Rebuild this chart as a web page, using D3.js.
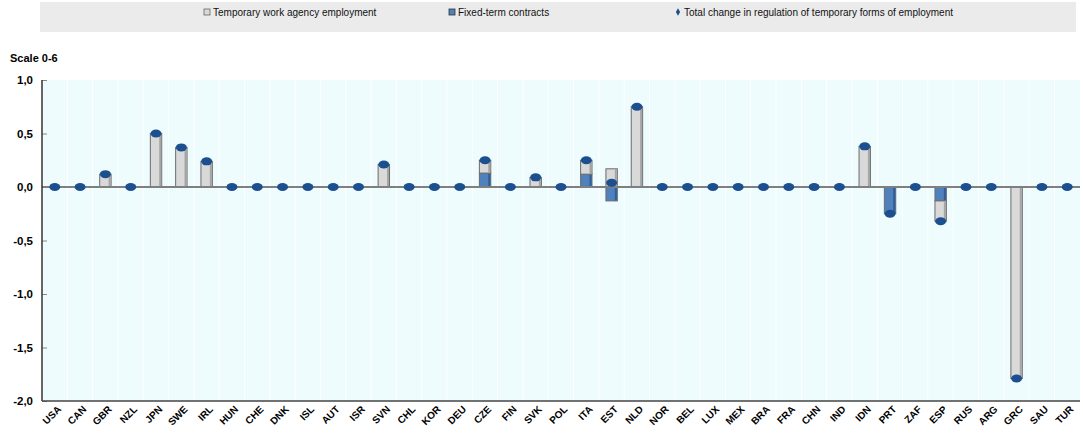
<!DOCTYPE html>
<html><head><meta charset="utf-8">
<script src="https://cdn.jsdelivr.net/npm/d3@7"></script>
<style>body{margin:0;background:#fff}svg{display:block}</style>
</head><body><svg id="c" width="1083" height="434"></svg>
<script>
const countries = ["USA","CAN","GBR","NZL","JPN","SWE","IRL","HUN","CHE","DNK","ISL","AUT","ISR","SVN","CHL","KOR","DEU","CZE","FIN","SVK","POL","ITA","EST","NLD","NOR","BEL","LUX","MEX","BRA","FRA","CHN","IND","IDN","PRT","ZAF","ESP","RUS","ARG","GRC","SAU","TUR"];
const twa   = [0,0,0.12,0,0.50,0.37,0.24,0,0,0,0,0,0,0.21,0,0,0,0.12,0,0.09,0,0.13,0.17,0.75,0,0,0,0,0,0,0,0,0.38,0,0,-0.19,0,0,-1.79,0,0];
const ftc   = [0,0,0,0,0,0,0,0,0,0,0,0,0,0,0,0,0,0.13,0,0,0,0.12,-0.13,0,0,0,0,0,0,0,0,0,0,-0.25,0,-0.13,0,0,0,0,0];
const total = [0,0,0.12,0,0.50,0.37,0.24,0,0,0,0,0,0,0.21,0,0,0,0.25,0,0.09,0,0.25,0.04,0.75,0,0,0,0,0,0,0,0,0.38,-0.25,0,-0.32,0,0,-1.79,0,0];
const yTicks = [1,0.5,0,-0.5,-1,-1.5,-2];
const legendLabels = ["Temporary work agency employment","Fixed-term contracts","Total change in regulation of temporary forms of employment"];
const yTitle = "Scale 0-6";

const svg = d3.select("#c");
const L = 42, R = 1080, T = 80, B = 401;
const x = d3.scaleBand().domain(countries).range([L, R]).paddingInner(0.55).paddingOuter(0.28);
const y = d3.scaleLinear().domain([-2, 1]).range([B, T]);

// legend
svg.append("rect").attr("x", 40).attr("y", 2).attr("width", 1036).attr("height", 30).attr("fill", "#ebebeb");
const lg = svg.append("g").attr("font-family", "Liberation Sans Narrow, Arial Narrow, Liberation Sans, sans-serif").attr("font-size", 10).attr("fill", "#111");
lg.append("rect").attr("x", 204).attr("y", 9).attr("width", 6).attr("height", 6).attr("fill", "#d9d9d9").attr("stroke", "#666").attr("stroke-width", 0.8);
lg.append("text").attr("x", 213).attr("y", 15.5).text(legendLabels[0]);
lg.append("rect").attr("x", 449).attr("y", 9).attr("width", 6).attr("height", 6).attr("fill", "#4f81bd").attr("stroke", "#333").attr("stroke-width", 0.8);
lg.append("text").attr("x", 458).attr("y", 15.5).text(legendLabels[1]);
lg.append("path").attr("d", d3.symbol(d3.symbolDiamond, 16)()).attr("transform", "translate(678,12)").attr("fill", "#1c4f8f");
lg.append("text").attr("x", 684).attr("y", 15.5).text(legendLabels[2]);

// plot background
svg.append("rect").attr("x", L).attr("y", T).attr("width", R - L).attr("height", B - T).attr("fill", "#eefcfe");
svg.append("g").selectAll("line").data(countries).join("line")
  .attr("x1", d => x(d) - x.step() * 0.28).attr("x2", d => x(d) - x.step() * 0.28)
  .attr("y1", T).attr("y2", B).attr("stroke", "#ffffff").attr("stroke-width", 1);

// y title
svg.append("text").attr("x", 10).attr("y", 62).attr("font-family", "Liberation Sans, Arial, sans-serif")
  .attr("font-weight", "bold").attr("font-size", 11).attr("fill", "#000").text(yTitle);

// y axis
const fmt = v => d3.format(".1f")(v).replace("−", "-").replace(".", ",");
const ya = svg.append("g").attr("transform", `translate(${L},0)`)
  .call(d3.axisLeft(y).tickValues(yTicks).tickSize(-5).tickSizeOuter(0).tickFormat(fmt));
ya.select(".domain").remove();
ya.selectAll(".tick line").attr("stroke", "#888");
ya.selectAll("text").attr("x", -9).attr("font-family", "Liberation Sans, Arial, sans-serif").attr("font-weight", "bold").attr("font-size", 11.5).attr("fill", "#000");

// stacked bars (diverging)
const data = countries.map((c, i) => ({c, ftc: ftc[i], twa: twa[i]}));
const stack = d3.stack().keys(["ftc", "twa"]).offset(d3.stackOffsetDiverging)(data);
const colors = {ftc: "#4f81bd", twa: "#d9d9d9"};
const bw = x.bandwidth();
stack.forEach(s => {
  const g = svg.append("g");
  const rows = s.filter(d => d[1] !== d[0]);
  g.selectAll("rect.m").data(rows).join("rect").attr("class", "m")
    .attr("x", d => x(d.data.c)).attr("width", bw)
    .attr("y", d => y(Math.max(d[0], d[1]))).attr("height", d => Math.abs(y(d[0]) - y(d[1])))
    .attr("fill", colors[s.key]).attr("stroke", "#6b6b6b").attr("stroke-width", 1);
  g.selectAll("rect.s").data(rows).join("rect").attr("class", "s")
    .attr("x", d => x(d.data.c) + bw - 2.5).attr("width", 2)
    .attr("y", d => y(Math.max(d[0], d[1])) + 0.5).attr("height", d => Math.max(0, Math.abs(y(d[0]) - y(d[1])) - 1))
    .attr("fill", s.key === "twa" ? "#a5a5a5" : "#2f5f9a");
});

// zero line
svg.append("line").attr("x1", L).attr("x2", R).attr("y1", y(0)).attr("y2", y(0)).attr("stroke", "#7f7f7f").attr("stroke-width", 2);

// axes borders
svg.append("line").attr("x1", L).attr("x2", L).attr("y1", T).attr("y2", B).attr("stroke", "#333").attr("stroke-width", 1.5);
svg.append("line").attr("x1", L).attr("x2", R).attr("y1", B).attr("y2", B).attr("stroke", "#444").attr("stroke-width", 1.5);

// total markers
svg.append("g").selectAll("ellipse").data(countries).join("ellipse")
  .attr("cx", d => x(d) + bw / 2).attr("cy", (d, i) => y(total[i]))
  .attr("rx", 5.5).attr("ry", 4).attr("fill", "#1c4f8f");

// x labels
svg.append("g").selectAll("text").data(countries).join("text")
  .attr("transform", d => `translate(${x(d) + bw / 2 + 7},${B + 9}) rotate(-45)`)
  .attr("text-anchor", "end").attr("font-family", "Liberation Sans, Arial, sans-serif")
  .attr("font-weight", "bold").attr("font-size", 10).attr("fill", "#000").text(d => d);
</script></body></html>
